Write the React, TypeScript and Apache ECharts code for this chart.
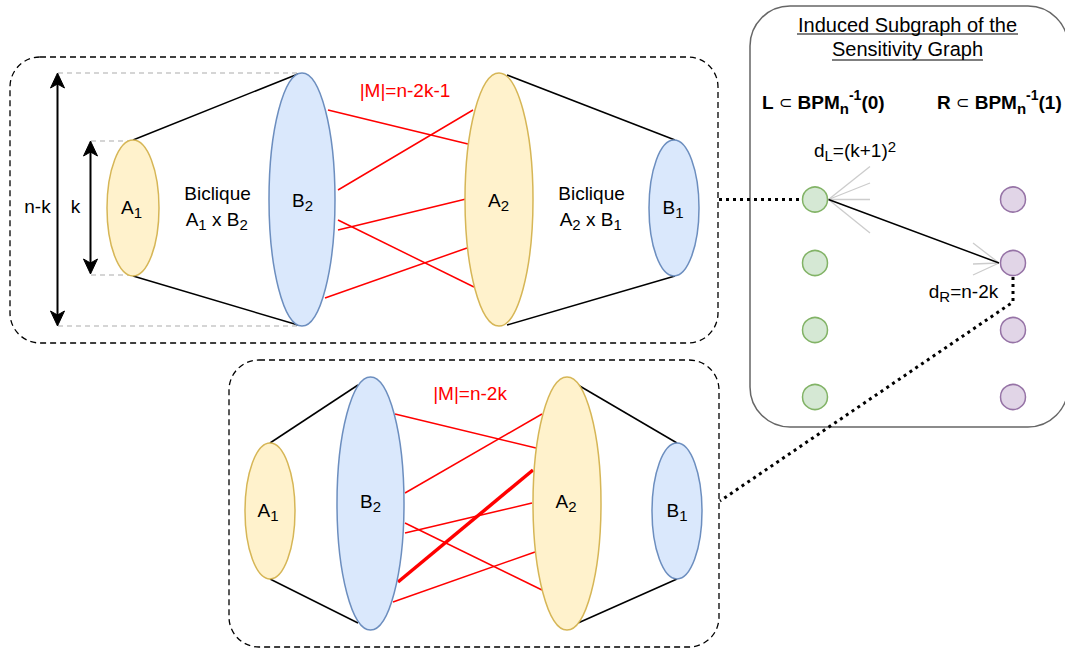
import React, { useEffect, useRef } from "react";
import * as echarts from "echarts";

const FONT = "'Liberation Sans', Arial, Helvetica, sans-serif";

// [cx, cy, rx, ry, kind]  kind: y = yellow set, b = blue set
const TOP_ELLIPSES: [number, number, number, number, string][] = [
  [133, 208, 26, 68, "y"],
  [302, 199.5, 33, 126.5, "b"],
  [499, 199.5, 34, 126.5, "y"],
  [674, 208, 25, 68, "b"],
];
const BOTTOM_ELLIPSES: [number, number, number, number, string][] = [
  [270, 511, 25, 68, "y"],
  [370.5, 503.5, 33.5, 126.5, "b"],
  [567, 503.5, 34, 126.5, "y"],
  [677, 511, 25, 68, "b"],
];
const TOP_LABELS: [number, number, string][] = [
  [131.5, 207, "A{s|1}"],
  [302.5, 200, "B{s|2}"],
  [498.5, 200, "A{s|2}"],
  [673, 207, "B{s|1}"],
];
const BOTTOM_LABELS: [number, number, string][] = [
  [268, 510, "A{s|1}"],
  [370.5, 501, "B{s|2}"],
  [566, 501, "A{s|2}"],
  [677, 510, "B{s|1}"],
];
// [x1, y1, x2, y2]
const TOP_BICLIQUE_EDGES = [
  [133, 140, 298, 74],
  [133, 276, 298, 325],
  [507, 75, 675, 140],
  [507, 325, 675, 276],
];
const BOTTOM_BICLIQUE_EDGES = [
  [270, 443, 358, 385],
  [270, 579, 358, 623],
  [578, 385, 677, 443],
  [578, 623, 677, 579],
];
const TOP_MATCHING = [
  [328, 110, 468, 144],
  [338, 190, 473, 110],
  [338, 220, 474, 287],
  [338, 230, 466, 199],
  [325, 298, 467, 248],
];
const BOTTOM_MATCHING = [
  [395, 414, 536, 448],
  [405, 493, 542, 414],
  [405, 523, 542, 590],
  [405, 533, 532, 503],
  [393, 602, 535, 552],
];
const BOTTOM_MATCHING_BOLD = [[398, 582, 533, 470]];
const GUIDES = [
  [58, 73, 298, 73],
  [58, 326, 298, 326],
  [91, 141, 133, 141],
  [91, 275, 133, 275],
];
const NODE_Y = [199.5, 263, 330, 397];
const GREEN_X = 815;
const PURPLE_X = 1013;
const FAN_L = [
  [870, 166.5],
  [870, 183],
  [870, 199.5],
  [870, 233],
];
const FAN_R = [
  [973, 243],
  [973, 264],
  [973, 275],
];

const RICH: any = {
  s: { fontSize: 15, fontFamily: FONT, height: 13, lineHeight: 13, verticalAlign: "bottom", fill: "#000" },
  p: { fontSize: 15, fontFamily: FONT, height: 16, lineHeight: 16, verticalAlign: "top", fill: "#000" },
  b: { fontSize: 19, fontFamily: FONT, fontWeight: "bold", lineHeight: 24, fill: "#000" },
  bs: { fontSize: 15, fontFamily: FONT, fontWeight: "bold", height: 12, lineHeight: 12, verticalAlign: "bottom", fill: "#000" },
  bp: { fontSize: 14, fontFamily: FONT, fontWeight: "bold", height: 10, lineHeight: 10, verticalAlign: "top", fill: "#000" },
  sym: { fontSize: 16, fontFamily: "'DejaVu Sans', sans-serif", lineHeight: 24, fill: "#000" },
};

function txt(x: number, y: number, text: string, extra: any = {}) {
  return {
    type: "text",
    x,
    y,
    silent: true,
    style: {
      text,
      align: "center",
      verticalAlign: "middle",
      fontFamily: FONT,
      fontSize: 19,
      lineHeight: 24,
      fill: "#000",
      rich: RICH,
      ...extra,
    },
  };
}

function seg(l: number[], stroke: string, lineWidth: number, lineDash?: number[]) {
  return {
    type: "line",
    silent: true,
    shape: { x1: l[0], y1: l[1], x2: l[2], y2: l[3] },
    style: { stroke, lineWidth, lineDash: lineDash || null, fill: "none" },
  };
}

function ellipse(e: [number, number, number, number, string]) {
  const yellow = e[4] === "y";
  return {
    type: "ellipse",
    silent: true,
    shape: { cx: e[0], cy: e[1], rx: e[2], ry: e[3] },
    style: {
      fill: yellow ? "#fff2cc" : "#dae8fc",
      stroke: yellow ? "#d6b656" : "#6c8ebf",
      lineWidth: 1.5,
    },
  };
}

function arrow(x: number, yTop: number, yBot: number) {
  const hw = 7;
  const hh = 15;
  return [
    seg([x, yTop + 10, x, yBot - 10], "#000", 2),
    {
      type: "polygon",
      silent: true,
      shape: { points: [[x, yTop], [x - hw, yTop + hh], [x, yTop + hh - 4], [x + hw, yTop + hh]] },
      style: { fill: "#000", stroke: "#000", lineWidth: 1 },
    },
    {
      type: "polygon",
      silent: true,
      shape: { points: [[x, yBot], [x - hw, yBot - hh], [x, yBot - hh + 4], [x + hw, yBot - hh]] },
      style: { fill: "#000", stroke: "#000", lineWidth: 1 },
    },
  ];
}

function buildElements() {
  const els: any[] = [];
  // containers
  els.push({
    type: "rect",
    silent: true,
    shape: { x: 10, y: 57, width: 708, height: 286, r: 30 },
    style: { fill: "none", stroke: "#000", lineWidth: 1.3, lineDash: [6, 4] },
  });
  els.push({
    type: "rect",
    silent: true,
    shape: { x: 229, y: 360, width: 490, height: 287, r: 30 },
    style: { fill: "none", stroke: "#000", lineWidth: 1.3, lineDash: [6, 4] },
  });
  els.push({
    type: "rect",
    silent: true,
    shape: { x: 750, y: 6, width: 318, height: 421, r: 40 },
    style: { fill: "#fff", stroke: "#666", lineWidth: 1.5 },
  });

  // guides and arrows
  GUIDES.forEach((g) => els.push(seg(g, "#c8c8c8", 1.3, [5, 4])));
  els.push(...arrow(57.5, 73, 326));
  els.push(...arrow(90.5, 141, 274));

  // biclique edges
  TOP_BICLIQUE_EDGES.forEach((l) => els.push(seg(l, "#000", 1.5)));
  BOTTOM_BICLIQUE_EDGES.forEach((l) => els.push(seg(l, "#000", 1.5)));
  // matching edges
  TOP_MATCHING.forEach((l) => els.push(seg(l, "#ff0000", 1.5)));
  BOTTOM_MATCHING.forEach((l) => els.push(seg(l, "#ff0000", 1.5)));
  BOTTOM_MATCHING_BOLD.forEach((l) => els.push(seg(l, "#ff0000", 3.5)));

  // ellipses
  TOP_ELLIPSES.forEach((e) => els.push(ellipse(e)));
  BOTTOM_ELLIPSES.forEach((e) => els.push(ellipse(e)));

  // labels in ellipses
  TOP_LABELS.forEach((t) => els.push(txt(t[0], t[1], t[2])));
  BOTTOM_LABELS.forEach((t) => els.push(txt(t[0], t[1], t[2])));

  // side labels
  els.push(txt(37.5, 206, "n-k"));
  els.push(txt(75.5, 206, "k"));
  els.push(txt(217.5, 193, "Biclique"));
  els.push(txt(216.7, 219, "A{s|1} x B{s|2}"));
  els.push(txt(591.5, 193, "Biclique"));
  els.push(txt(590.7, 219, "A{s|2} x B{s|1}"));
  els.push(txt(405, 90, "|M|=n-2k-1", { fill: "#ff0000" }));
  els.push(txt(470, 393, "|M|=n-2k", { fill: "#ff0000" }));

  // sensitivity graph panel
  els.push(txt(907.5, 25, "Induced Subgraph of the", { fontSize: 20 }));
  els.push(txt(907.5, 49, "Sensitivity Graph", { fontSize: 20 }));
  els.push(seg([797, 34, 1018, 34], "#000", 1.2));
  els.push(seg([832, 60, 983, 60], "#000", 1.2));
  els.push(
    txt(762, 102, "{b|L }{sym|⊂}{b| BPM}{bs|n}{bp|-1}{b|(0)}", { align: "left", fontWeight: "bold" })
  );
  els.push(
    txt(937, 102, "{b|R }{sym|⊂}{b| BPM}{bs|n}{bp|-1}{b|(1)}", { align: "left", fontWeight: "bold" })
  );

  // dotted connectors
  els.push({
    type: "polyline",
    silent: true,
    shape: { points: [[719, 199.5], [802, 199.5]] },
    style: { stroke: "#000", lineWidth: 3, lineDash: [3, 4], fill: "none" },
  });
  els.push({
    type: "polyline",
    silent: true,
    shape: { points: [[1013, 277], [1013, 302], [720, 501]] },
    style: { stroke: "#000", lineWidth: 3, lineDash: [3, 4], fill: "none" },
  });

  // fans
  const lx = GREEN_X + 13.5;
  FAN_L.forEach((p) => els.push(seg([lx, NODE_Y[0], p[0], p[1]], "#cccccc", 1.3)));
  const rx = PURPLE_X - 14;
  FAN_R.forEach((p) => els.push(seg([rx, NODE_Y[1], p[0], p[1]], "#cccccc", 1.3)));
  els.push(seg([lx, NODE_Y[0], rx, NODE_Y[1]], "#000", 1.5));

  // nodes
  NODE_Y.forEach((y) => {
    els.push({
      type: "circle",
      silent: true,
      shape: { cx: GREEN_X, cy: y, r: 12.5 },
      style: { fill: "#d5e8d4", stroke: "#82b366", lineWidth: 1.5 },
    });
    els.push({
      type: "circle",
      silent: true,
      shape: { cx: PURPLE_X, cy: y, r: 12.5 },
      style: { fill: "#e1d5e7", stroke: "#9673a6", lineWidth: 1.5 },
    });
  });

  els.push(txt(855, 150, "d{s|L}=(k+1){p|2}"));
  els.push(txt(963.5, 291, "d{s|R}=n-2k"));

  return els;
}

export default function App() {
  const ref = useRef<HTMLDivElement>(null);
  useEffect(() => {
    document.body.style.margin = "0";
    if (!ref.current) return;
    const chart = echarts.init(ref.current, undefined, { renderer: "svg" });
    chart.setOption({
      animation: false,
      backgroundColor: "#ffffff",
      graphic: { elements: buildElements() },
    });
    return () => chart.dispose();
  }, []);
  return (
    <div
      ref={ref}
      style={{ position: "fixed", left: 0, top: 0, width: 1065, height: 648 }}
    />
  );
}
